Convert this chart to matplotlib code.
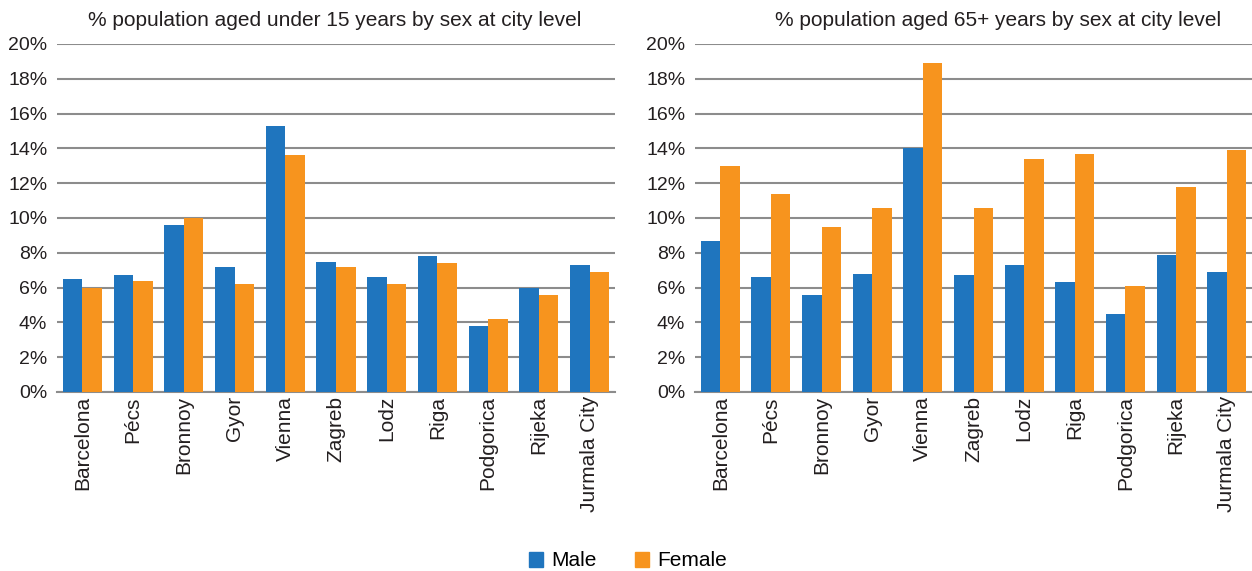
import matplotlib
matplotlib.use("Agg")
import matplotlib.pyplot as plt
import numpy as np
from matplotlib.patches import Patch
from matplotlib.ticker import PercentFormatter

plt.rcParams["font.family"] = ["Liberation Sans", "DejaVu Sans"]

cities = ["Barcelona", "Pécs", "Bronnoy", "Gyor", "Vienna", "Zagreb",
          "Lodz", "Riga", "Podgorica", "Rijeka", "Jurmala City"]

# % of population aged under 15
under15_male = [6.5, 6.7, 9.6, 7.2, 15.3, 7.5, 6.6, 7.8, 3.8, 6.0, 7.3]
under15_female = [6.0, 6.4, 10.0, 6.2, 13.6, 7.2, 6.2, 7.4, 4.2, 5.6, 6.9]

# % of population aged 65+
over65_male = [8.7, 6.6, 5.6, 6.8, 14.0, 6.7, 7.3, 6.3, 4.5, 7.9, 6.9]
over65_female = [13.0, 11.4, 9.5, 10.6, 18.9, 10.6, 13.4, 13.7, 6.1, 11.8, 13.9]

BLUE = "#1f75be"
ORANGE = "#f7941e"
GRID = "#8c8c8c"
TXT = "#231f20"
FS = 15


def panel(ax, male, female):
    x = np.arange(len(cities))
    w = 0.385
    ax.bar(x - w / 2, male, w, color=BLUE, zorder=3)
    ax.bar(x + w / 2, female, w, color=ORANGE, zorder=3)
    ax.set_xlim(-0.5, len(cities) - 0.5)
    ax.set_ylim(0, 20)
    ax.set_yticks(np.arange(0, 21, 2))
    ax.yaxis.set_major_formatter(PercentFormatter(decimals=0))
    ax.grid(axis="y", color=GRID, lw=1.5, zorder=0)
    for s in ("top", "right", "left"):
        ax.spines[s].set_visible(False)
    ax.spines["bottom"].set_color(GRID)
    ax.spines["bottom"].set_linewidth(1.5)
    ax.set_xticks(x)
    ax.set_xticklabels(cities, rotation=90, fontsize=FS, color=TXT)
    ax.tick_params(axis="both", length=0, colors=TXT)
    ax.tick_params(axis="y", pad=7, labelsize=14)
    ax.tick_params(axis="x", pad=3, labelsize=FS)


fig = plt.figure(figsize=(12.52, 5.71), dpi=100)
W, H = 1252, 571
ax1 = fig.add_axes([57 / W, 1 - 392 / H, (615 - 57) / W, (392 - 44) / H])
ax2 = fig.add_axes([695 / W, 1 - 392 / H, (1252 - 695) / W, (392 - 44) / H])
panel(ax1, under15_male, under15_female)
panel(ax2, over65_male, over65_female)

fig.text(335 / W, 1 - 21 / H, "% population aged under 15 years by sex at city level",
         ha="center", va="center", fontsize=FS, color=TXT)
fig.text(998 / W, 1 - 21 / H, "% population aged 65+ years by sex at city level",
         ha="center", va="center", fontsize=FS, color=TXT)

handles = [Patch(color=BLUE, label="Male"), Patch(color=ORANGE, label="Female")]
fig.legend(handles=handles, loc="center", bbox_to_anchor=(628 / W, 1 - 561 / H),
           ncol=2, frameon=False, fontsize=FS, handlelength=0.7, handleheight=0.7,
           handletextpad=0.4, columnspacing=1.8)

fig.savefig("out.png", dpi=100)
